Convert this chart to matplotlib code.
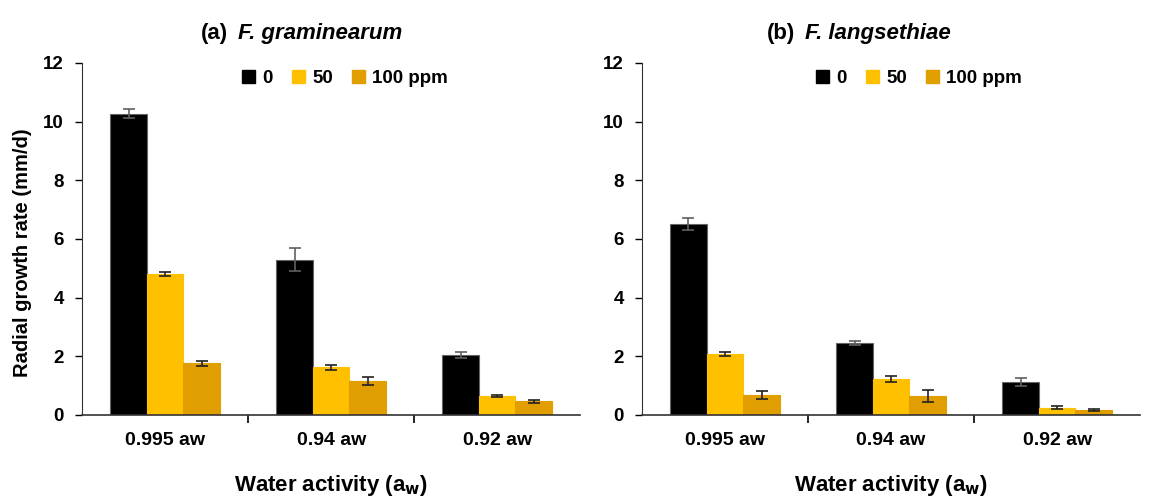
import matplotlib

matplotlib.use("Agg")

import matplotlib.pyplot as plt  # noqa: E402
import numpy as np  # noqa: E402
from matplotlib.patches import Patch  # noqa: E402

plt.rcParams["font.family"] = ["Liberation Sans", "DejaVu Sans"]
plt.rcParams["font.weight"] = "bold"

categories = ["0.995 aw", "0.94 aw", "0.92 aw"]
doses = ["0", "50", "100 ppm"]
colors = ["#000000", "#FFC000", "#E09E00"]

# F. graminearum
gram_vals = [
    [10.27, 5.30, 2.05],
    [4.80, 1.62, 0.65],
    [1.76, 1.15, 0.47],
]
gram_err = [
    [0.15, 0.38, 0.10],
    [0.06, 0.10, 0.03],
    [0.08, 0.13, 0.05],
]

# F. langsethiae
lang_vals = [
    [6.52, 2.45, 1.12],
    [2.08, 1.24, 0.25],
    [0.68, 0.65, 0.17],
]
lang_err = [
    [0.20, 0.07, 0.13],
    [0.07, 0.10, 0.04],
    [0.13, 0.20, 0.04],
]

panels = [
    ("(a)", "F. graminearum", gram_vals, gram_err, 0.313, 0.528),
    ("(b)", "F. langsethiae", lang_vals, lang_err, 0.327, 0.556),
]

fig = plt.figure(figsize=(11.49, 4.98), dpi=100)
axes = [
    fig.add_axes([0.0714, 0.1667, 0.4336, 0.7068]),
    fig.add_axes([0.5587, 0.1667, 0.4336, 0.7068]),
]

ind = np.arange(len(categories))
width = 0.22

for ax, (tag, species, vals, errs, tx, lx) in zip(axes, panels):
    for i in range(len(doses)):
        ecol = "#606060" if i == 0 else "#222222"
        ax.bar(ind + (i - 1) * width, vals[i], width, color=colors[i],
               edgecolor="#666666" if i == 0 else colors[i], linewidth=0.8,
               yerr=errs[i], capsize=4,
               error_kw={"ecolor": ecol, "elinewidth": 1.2, "capthick": 1.2})
    ax.set_xlim(-0.5, 2.5)
    ax.set_ylim(0, 12)
    ax.set_yticks(range(0, 13, 2))
    ax.set_xticks(ind)
    ax.set_xticklabels(categories, fontsize=14, fontweight="bold")
    ax.tick_params(axis="x", length=0, pad=12)
    ax.set_xticks([0.5, 1.5], minor=True)
    ax.tick_params(axis="x", which="minor", length=6, width=1.2, direction="out")
    ax.tick_params(axis="y", labelsize=13.5, length=5, width=1.0, direction="out", pad=8)
    for lab in ax.get_yticklabels():
        lab.set_fontweight("bold")
    ax.spines["top"].set_visible(False)
    ax.spines["right"].set_visible(False)
    ax.spines["left"].set_color("#333333")
    ax.spines["bottom"].set_color("#333333")
    ax.spines["bottom"].set_linewidth(1.2)
    ax.set_xlabel("Water activity (a$_\\mathbf{w}$)", fontsize=16, fontweight="bold")
    ax.xaxis.set_label_coords(0.5, -0.165)
    ax.text(tx - 0.02, 1.068, tag, transform=ax.transAxes, ha="right", va="baseline",
            fontsize=16, fontweight="bold")
    ax.text(tx, 1.068, species, transform=ax.transAxes, ha="left", va="baseline",
            fontsize=16, fontweight="bold", style="italic")
    handles = [Patch(facecolor=c, edgecolor=c) for c in colors]
    ax.legend(handles, doses, loc="center", bbox_to_anchor=(lx, 0.957), ncol=3,
              frameon=False, handlelength=0.7, handleheight=0.7, handletextpad=0.4,
              columnspacing=1.0, borderpad=0.0, prop={"weight": "bold", "size": 13.5})

axes[0].set_ylabel("Radial growth rate (mm/d)", fontsize=14.5, fontweight="bold")
axes[0].yaxis.set_label_coords(-0.10, 0.46)

fig.savefig("out.png", dpi=100)
